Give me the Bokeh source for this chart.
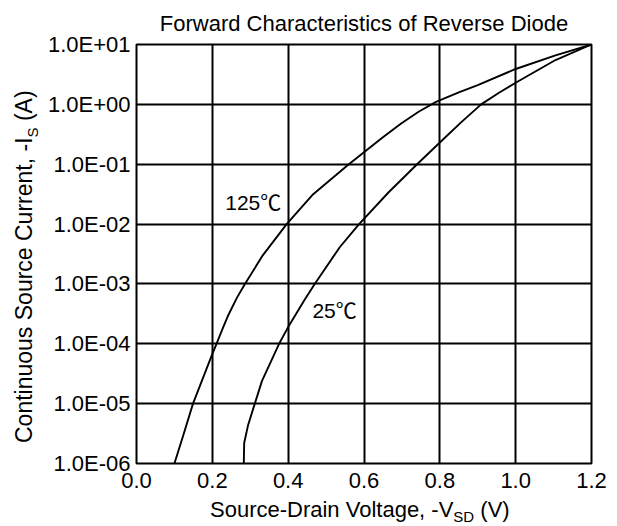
from bokeh.plotting import figure
from bokeh.layouts import row, column
from bokeh.models import Range1d, FixedTicker, CustomJSTickFormatter, PrintfTickFormatter, Div
from bokeh.core.properties import value
from bokeh.embed import file_html
from bokeh.resources import INLINE

# ---- data ----
x_ticks = [0.0, 0.2, 0.4, 0.6, 0.8, 1.0, 1.2]
y_ticks = [1e-6, 1e-5, 1e-4, 1e-3, 1e-2, 1e-1, 1e0, 1e1]

vsd_125 = [0.100, 0.123, 0.149, 0.198, 0.211, 0.225, 0.242, 0.265, 0.286, 0.333, 0.396, 0.466,
           0.560, 0.600, 0.649, 0.698, 0.745, 0.790, 0.850, 0.900, 1.000, 1.105, 1.200]
is_125 = [1.0e-6, 2.9e-6, 1.0e-5, 6.3e-5, 1.0e-4, 1.66e-4, 3.0e-4, 5.9e-4, 1.0e-3, 3.0e-3, 1.0e-2, 3.16e-2,
          1.0e-1, 1.58e-1, 2.8e-1, 4.8e-1, 7.6e-1, 1.10, 1.58, 2.1, 3.9, 6.6, 10.0]

vsd_25 = [0.283, 0.284, 0.294, 0.312, 0.331, 0.376, 0.400, 0.443, 0.470, 0.536,
          0.587, 0.665, 0.740, 0.800, 0.856, 0.909, 0.955, 1.000, 1.105, 1.200]
is_25 = [1.0e-6, 2.2e-6, 4.3e-6, 1.0e-5, 2.4e-5, 1.0e-4, 1.9e-4, 5.4e-4, 1.0e-3, 4.1e-3,
         1.0e-2, 3.4e-2, 1.0e-1, 2.3e-1, 5.0e-1, 1.0, 1.55, 2.3, 5.5, 10.0]

curve_labels = ["125\u2103", "25\u2103"]
title_text = "Forward Characteristics of Reverse Diode"
xlabel_html = 'Source-Drain Voltage, -V<sub style="font-size:15px">SD</sub> (V)'
ylabel_html = 'Continuous Source Current, -I<sub style="font-size:15px">S</sub> (A)'

FONT = "Liberation Sans"
YDIV_W = 40
W, H = 577, 499
ML, MR, MT, MB = 96, 26, 44, 36

p = figure(width=W, height=H, x_range=Range1d(0, 1.2), y_range=Range1d(1e-6, 10),
           y_axis_type="log", output_backend="svg", toolbar_location=None,
           title=title_text,
           min_border_left=ML, min_border_right=MR, min_border_top=MT, min_border_bottom=MB)

p.title.text_font = FONT
p.title.text_font_size = "22px"
p.title.text_font_style = "normal"
p.title.text_color = "black"
p.title.align = "center"
p.title.standoff = 17

p.background_fill_color = "white"
p.border_fill_color = "white"
p.outline_line_color = "black"
p.outline_line_width = 2

p.xaxis.ticker = FixedTicker(ticks=x_ticks)
p.yaxis.ticker = FixedTicker(ticks=y_ticks)
p.xaxis.formatter = PrintfTickFormatter(format="%.1f")
p.yaxis.formatter = CustomJSTickFormatter(code="""
const e = Math.round(Math.log10(tick));
const s = e < 0 ? '-' : '+';
const a = Math.abs(e);
return '1.0E' + s + (a < 10 ? '0' : '') + a;
""")

for ax in (p.xaxis, p.yaxis):
    ax.axis_line_color = None
    ax.major_tick_line_color = None
    ax.minor_tick_line_color = None
    ax.major_tick_out = 0
    ax.major_tick_in = 0
    ax.minor_tick_out = 0
    ax.minor_tick_in = 0
    ax.major_label_text_font = FONT
    ax.major_label_text_font_size = "22px"
    ax.major_label_text_color = "black"
p.yaxis.major_label_standoff = 6
p.xaxis.major_label_standoff = 9

for g in (p.xgrid, p.ygrid):
    g.grid_line_color = "black"
    g.grid_line_width = 2
    g.grid_line_alpha = 1.0
p.ygrid.minor_grid_line_color = None

p.line(vsd_125, is_125, line_color="black", line_width=1.9)
p.line(vsd_25, is_25, line_color="black", line_width=1.9)

p.text(x=[0.234, 0.464], y=[2.29e-2, 3.55e-4], text=curve_labels,
       text_font=value("Liberation Sans, Noto Sans CJK SC"), text_font_size="21px",
       text_color="black", text_align="left", text_baseline="middle")

font_css = "font-family:Liberation Sans,Arial,sans-serif;color:black;white-space:nowrap;"

ydiv = Div(
    text=('<div style="padding-left:11px;padding-top:443px;">'
          '<div style="width:420px;transform-origin:0 0;transform:rotate(-90deg);'
          'line-height:26px;font-size:23px;' + font_css + '">' + ylabel_html + '</div></div>'),
    width=YDIV_W, height=520, margin=0, styles={"overflow": "visible"})

xdiv = Div(
    text=('<div style="padding-left:170px;line-height:22px;font-size:22px;' + font_css + '">'
          + xlabel_html + '</div>'),
    width=W, height=21, margin=0, styles={"overflow": "visible"})

layout = row(ydiv, column(p, xdiv, spacing=0), spacing=0)

open("out.html", "w").write(file_html(layout, INLINE))
